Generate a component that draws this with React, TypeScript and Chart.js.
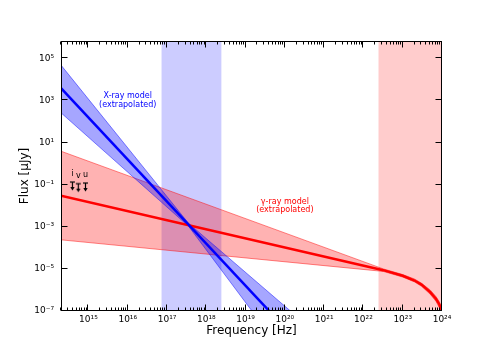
import React, { useEffect, useRef } from 'react';
import { Chart, registerables } from 'chart.js';

Chart.register(...registerables);

// Axis ranges
const xRange = [2e14, 1e24];
const yRange = [1e-7, 6.7e5];

// Tick exponents
const xTickExponents = [15, 16, 17, 18, 19, 20, 21, 22, 23, 24];
const yTickExponents = [-7, -5, -3, -1, 1, 3, 5];
const minorMultipliers = [2, 3, 4, 5, 6, 7, 8, 9];

// Shaded frequency bands (Hz)
const xrayBandRange = [7.25e16, 2.42e18];
const gammaBandRange = [2.42e22, 1e24];

// X-ray model (extrapolated)
const xrayLineNu = [2e14, 1e21];
const xrayLineFlux = [3.9e3, 1.6e-10];
const xrayBowtieNu = [2e14, 3.55e17, 1e21];
const xrayBowtieUpper = [4.8e4, 1.45e-3, 4.2e-9];
const xrayBowtieLower = [2.6e2, 1.05e-3, 2.6e-12];

// gamma-ray model (extrapolated)
const gammaNu = [2e14, 3.2e22, 1e23, 2e23, 3e23, 5e23, 7e23, 8.5e23, 1e24];
const gammaFlux = [3.0e-2, 8.7e-6, 4.7e-6, 2.8e-6, 1.8e-6, 7.9e-7, 3.8e-7, 2.1e-7, 8.9e-8];
const gammaUpper = [3.9, 1.0e-5, 5.4e-6, 3.3e-6, 2.1e-6, 1.0e-6, 4.9e-7, 2.8e-7, 1.4e-7];
const gammaLower = [2.4e-4, 7.6e-6, 4.1e-6, 2.4e-6, 1.5e-6, 6.3e-7, 2.9e-7, 1.5e-7, 5.0e-8];

// Optical/UV upper limits
const ulBands = ['i', 'v', 'u'];
const ulNu = [3.9e14, 5.5e14, 8.4e14];
const ulFlux = [0.134, 0.112, 0.12];

// Text annotations (data coordinates)
const annotations = [
  { lines: ['X-ray model', '(extrapolated)'], nu: 1e16, flux: 1e3, color: '#0000ff' },
  { lines: ['\u03b3-ray model', '(extrapolated)'], nu: 1e20, flux: 1e-2, color: '#ff0000' },
];

const SUP: Record<string, string> = {
  '0': '\u2070', '1': '\u00b9', '2': '\u00b2', '3': '\u00b3', '4': '\u2074',
  '5': '\u2075', '6': '\u2076', '7': '\u2077', '8': '\u2078', '9': '\u2079', '-': '\u207b',
};
const pow10Label = (v: number) => {
  const e = Math.round(Math.log10(v));
  return '10' + String(e).split('').map((c) => SUP[c] || c).join('');
};

const pts = (xs: number[], ys: number[]) => xs.map((x, i) => ({ x, y: ys[i] }));

const FONT = 'DejaVu Sans';

export default function App() {
  const ref = useRef<HTMLCanvasElement>(null);

  useEffect(() => {
    const canvas = ref.current!;

    // upper-limit marker: cap bar at center, arrow pointing down
    const marker = document.createElement('canvas');
    marker.width = 7;
    marker.height = 20;
    const m = marker.getContext('2d')!;
    m.strokeStyle = '#000';
    m.fillStyle = '#000';
    m.lineWidth = 1.2;
    m.beginPath(); m.moveTo(1, 10); m.lineTo(6, 10); m.stroke();
    m.beginPath(); m.moveTo(3.5, 10); m.lineTo(3.5, 16); m.stroke();
    m.beginPath(); m.moveTo(1.3, 15); m.lineTo(5.7, 15); m.lineTo(3.5, 18.5); m.closePath(); m.fill();

    const bandsPlugin = {
      id: 'bands',
      beforeDatasetsDraw(chart: any) {
        const { ctx, chartArea: a, scales: { x } } = chart;
        ctx.save();
        ctx.beginPath();
        ctx.rect(a.left, a.top, a.right - a.left, a.bottom - a.top);
        ctx.clip();
        const draw = (r: number[], color: string) => {
          const x0 = x.getPixelForValue(r[0]);
          const x1 = x.getPixelForValue(r[1]);
          ctx.fillStyle = color;
          ctx.fillRect(x0, a.top, x1 - x0, a.bottom - a.top);
        };
        draw(xrayBandRange, 'rgba(0,0,255,0.2)');
        draw(gammaBandRange, 'rgba(255,0,0,0.2)');
        ctx.restore();
      },
    };

    const textPlugin = {
      id: 'texts',
      afterDatasetsDraw(chart: any) {
        const { ctx, scales: { x, y } } = chart;
        ctx.save();
        ctx.textAlign = 'center';
        ctx.textBaseline = 'middle';
        ctx.font = `8px "${FONT}"`;
        annotations.forEach((an) => {
          const px = x.getPixelForValue(an.nu);
          const py = y.getPixelForValue(an.flux);
          ctx.fillStyle = an.color;
          const lh = 8.6;
          an.lines.forEach((t, i) => {
            ctx.fillText(t, px, py + (i - (an.lines.length - 1) / 2) * lh);
          });
        });
        ctx.fillStyle = '#000';
        ctx.font = `8px "${FONT}"`;
        ulBands.forEach((b, i) => {
          const px = x.getPixelForValue(ulNu[i]);
          const py = y.getPixelForValue(ulFlux[i]);
          ctx.fillText(b, px, py - 8);
        });
        ctx.restore();
      },
    };

    const framePlugin = {
      id: 'frame',
      afterDraw(chart: any) {
        const { ctx, chartArea: a, scales: { x, y } } = chart;
        ctx.save();
        ctx.strokeStyle = '#000';
        ctx.lineWidth = 1;
        const seg = (x0: number, y0: number, x1: number, y1: number) => {
          ctx.beginPath(); ctx.moveTo(x0, y0); ctx.lineTo(x1, y1); ctx.stroke();
        };
        const L = a.left + 0.5, R = a.right - 0.5, T = a.top + 0.5, B = a.bottom - 0.5;
        // x ticks (inward, top and bottom)
        const xe0 = Math.floor(Math.log10(xRange[0]));
        for (let e = xe0; e <= 24; e++) {
          [1, ...minorMultipliers].forEach((mm) => {
            const v = mm * Math.pow(10, e);
            if (v < xRange[0] * 0.999 || v > xRange[1] * 1.001) return;
            const len = mm === 1 ? 6 : 3;
            const px = Math.round(x.getPixelForValue(v)) - 0.5;
            seg(px, B, px, B - len);
            seg(px, T, px, T + len);
          });
        }
        // y ticks (inward, left and right)
        yTickExponents.forEach((e) => {
          const py = Math.round(y.getPixelForValue(Math.pow(10, e))) - 0.5;
          seg(L, py, L + 6, py);
          seg(R, py, R - 6, py);
        });
        ctx.strokeRect(L, T, R - L, B - T);
        ctx.restore();
      },
    };

    const chart = new Chart(canvas, {
      type: 'line',
      data: {
        datasets: [
          {
            label: 'upper limits',
            data: pts(ulNu, ulFlux),
            showLine: false,
            pointStyle: marker as any,
            pointRadius: 5,
          },
          {
            label: 'X-ray model',
            data: pts(xrayLineNu, xrayLineFlux),
            borderColor: '#0000ff',
            borderWidth: 2.5,
            pointRadius: 0,
            fill: false,
          },
          {
            label: 'gamma-ray model',
            data: pts(gammaNu, gammaFlux),
            borderColor: '#ff0000',
            borderWidth: 2.5,
            pointRadius: 0,
            fill: false,
          },
          {
            label: 'X-ray upper',
            data: pts(xrayBowtieNu, xrayBowtieUpper),
            borderColor: 'rgba(0,0,255,0.6)',
            borderWidth: 0.8,
            backgroundColor: 'rgba(0,0,255,0.35)',
            pointRadius: 0,
            fill: '+1',
          },
          {
            label: 'X-ray lower',
            data: pts(xrayBowtieNu, xrayBowtieLower),
            borderColor: 'rgba(0,0,255,0.6)',
            borderWidth: 0.8,
            pointRadius: 0,
            fill: false,
          },
          {
            label: 'gamma upper',
            data: pts(gammaNu, gammaUpper),
            borderColor: 'rgba(255,0,0,0.6)',
            borderWidth: 0.8,
            backgroundColor: 'rgba(255,0,0,0.3)',
            pointRadius: 0,
            fill: '+1',
          },
          {
            label: 'gamma lower',
            data: pts(gammaNu, gammaLower),
            borderColor: 'rgba(255,0,0,0.6)',
            borderWidth: 0.8,
            pointRadius: 0,
            fill: false,
          },
        ],
      },
      options: {
        animation: false,
        responsive: false,
        devicePixelRatio: 1,
        layout: { padding: { left: 0, right: 49, top: 41, bottom: 0 } },
        plugins: { legend: { display: false }, tooltip: { enabled: false } },
        scales: {
          x: {
            type: 'logarithmic',
            min: xRange[0],
            max: xRange[1],
            grid: { display: false, drawTicks: false },
            border: { display: false },
            afterBuildTicks: (s: any) => {
              s.ticks = xTickExponents.map((e) => ({ value: Math.pow(10, e) }));
            },
            afterFit: (s: any) => { s.height = 39; },
            ticks: {
              autoSkip: false,
              maxRotation: 0,
              padding: 3,
              color: '#000',
              font: { family: FONT, size: 9 },
              callback: (v: any) => pow10Label(Number(v)),
            },
            title: {
              display: true,
              text: 'Frequency [Hz]',
              color: '#000',
              font: { family: FONT, size: 12 },
              padding: { top: 0, bottom: 12 },
            },
          },
          y: {
            type: 'logarithmic',
            min: yRange[0],
            max: yRange[1],
            grid: { display: false, drawTicks: false },
            border: { display: false },
            afterBuildTicks: (s: any) => {
              s.ticks = yTickExponents.map((e) => ({ value: Math.pow(10, e) }));
            },
            afterFit: (s: any) => { s.width = 61; },
            ticks: {
              autoSkip: false,
              padding: 7,
              color: '#000',
              font: { family: FONT, size: 9 },
              callback: (v: any) => pow10Label(Number(v)),
            },
            title: {
              display: true,
              text: 'Flux [\u03bcJy]',
              color: '#000',
              font: { family: FONT, size: 12 },
              padding: { top: 18, bottom: 0 },
            },
          },
        },
      },
      plugins: [bandsPlugin, textPlugin, framePlugin],
    } as any);

    return () => chart.destroy();
  }, []);

  return (
    <div style={{ position: 'fixed', left: 0, top: 0, width: 491, height: 350, background: '#fff' }}>
      <canvas ref={ref} width={491} height={350} style={{ width: 491, height: 350 }} />
    </div>
  );
}
